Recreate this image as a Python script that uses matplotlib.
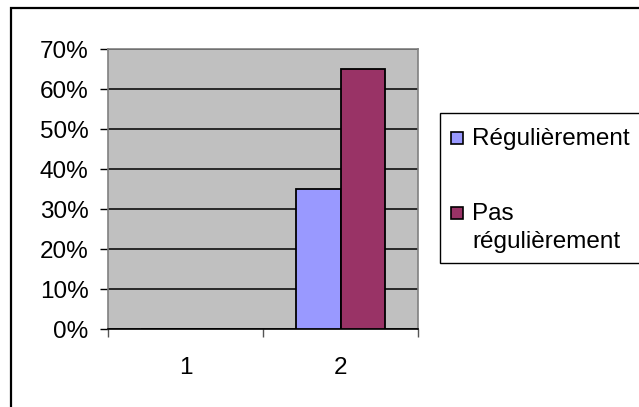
import numpy as np
import matplotlib.pyplot as plt
from matplotlib.patches import Rectangle
from matplotlib.ticker import PercentFormatter

categories = ["1", "2"]
regulierement = [0.0, 0.35]
pas_regulierement = [0.0, 0.65]
series_names = ["Régulièrement", "Pas\nrégulièrement"]
series_colors = ['#9999FF', '#993366']
yticks = [0, 0.1, 0.2, 0.3, 0.4, 0.5, 0.6, 0.7]

plt.rcParams['font.family'] = ['Liberation Sans', 'DejaVu Sans']
fs = 17.5

W, H = 639, 407
fig = plt.figure(figsize=(W / 100, H / 100), dpi=100)
ax = fig.add_axes([108 / W, 1 - 329 / H, 310 / W, 280 / H])

x = np.arange(len(categories))
w = 0.286
ax.bar(x - w / 2, regulierement, w, color=series_colors[0], edgecolor='black', linewidth=1.3, zorder=3)
ax.bar(x + w / 2, pas_regulierement, w, color=series_colors[1], edgecolor='black', linewidth=1.3, zorder=3)

ax.set_facecolor('#C0C0C0')
ax.set_xlim(-0.5, len(categories) - 0.5)
ax.set_ylim(0, 0.7)
ax.set_yticks(yticks)
ax.yaxis.set_major_formatter(PercentFormatter(1.0, decimals=0))
ax.yaxis.grid(True, color='black', linewidth=1.1, zorder=1)
ax.set_axisbelow(True)

# category boundaries get the tick marks, centers get the labels
ax.set_xticks(np.arange(len(categories) + 1) - 0.5)
ax.set_xticklabels([])
ax.set_xticks(x, minor=True)
ax.set_xticklabels(categories, minor=True)
ax.tick_params(axis='x', which='major', direction='out', length=6, width=1, color='#555555')
ax.tick_params(axis='x', which='minor', length=0, pad=20, labelsize=fs)
ax.tick_params(axis='y', direction='out', length=6, width=1, pad=8, labelsize=fs)

for side in ['top', 'right', 'left']:
    ax.spines[side].set_color('#808080')
    ax.spines[side].set_linewidth(1.2)
ax.spines['bottom'].set_color('black')
ax.spines['bottom'].set_linewidth(1.2)

# legend box drawn by hand so the square sits on the first text line
fig.patches.append(Rectangle((440 / W, 1 - 263 / H), 1.0, 150 / H,
                             transform=fig.transFigure, facecolor='white',
                             edgecolor='black', linewidth=1.0))
baselines = [145, 220]
line_step = 28
for name, color, base in zip(series_names, series_colors, baselines):
    fig.patches.append(Rectangle((451 / W, 1 - (base - 1) / H), 12 / W, 12 / H,
                                 transform=fig.transFigure, facecolor=color,
                                 edgecolor='black', linewidth=1.2))
    for i, line in enumerate(name.split("\n")):
        fig.text(472 / W, 1 - (base + i * line_step) / H, line, fontsize=fs,
                 va='baseline', ha='left')

# outer chart border
fig.patches.append(Rectangle((11 / W, -0.05), 1.0, 1 - 8 / H + 0.05,
                             transform=fig.transFigure, fill=False,
                             edgecolor='black', linewidth=1.6))

fig.savefig('out.png', dpi=100)
